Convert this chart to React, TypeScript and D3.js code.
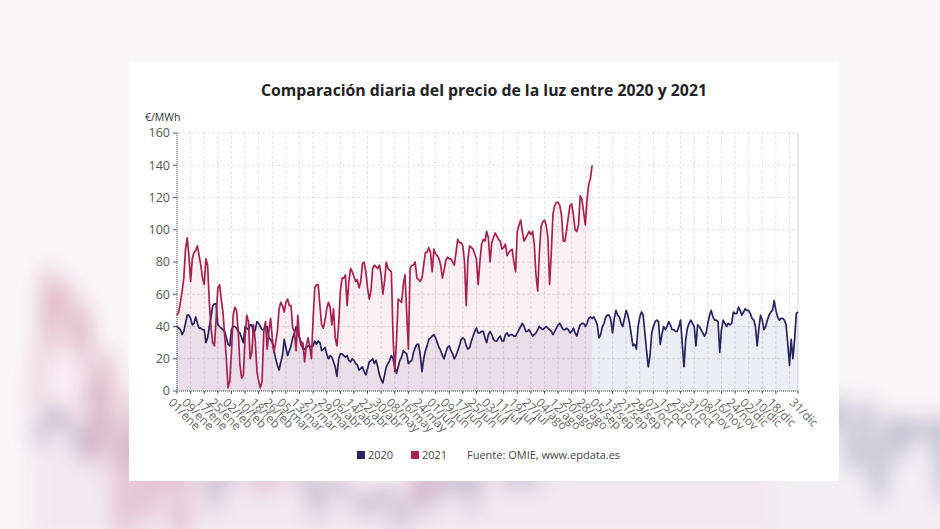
import React from 'react';
import * as d3 from 'd3';

// daily price, €/MWh, index 0 = 01/ene
const price2020 = [
  40, 39, 38, 35, 37,
  42, 47, 47, 45, 41, 42, 46,
  42, 39, 39, 38, 38, 30, 33,
  40, 46, 53, 54, 54, 41, 40,
  39, 38, 37, 33, 29, 28, 38,
  40, 40, 39, 37, 36, 33, 30,
  40, 39, 38, 41, 41, 35, 38,
  43, 42, 40, 38, 38, 40, 40,
  33, 32, 30, 25, 20, 16, 13,
  18, 22, 32, 27, 22, 25, 28,
  33, 36, 40, 36, 33, 30, 26,
  26, 27, 28, 28, 27, 28, 31,
  29, 31, 30, 25, 26, 27, 23,
  20, 22, 21, 18, 15, 9, 20,
  23, 23, 22, 21, 22, 19, 18,
  20, 19, 17, 16, 13, 14, 15,
  12, 10, 14, 18, 19, 20, 17,
  19, 15, 10, 7, 5, 10, 15,
  17, 19, 22, 20, 15, 11, 15,
  19, 21, 25, 24, 23, 17, 18,
  19, 24, 27, 29, 29, 22, 12,
  20, 25, 28, 32, 33, 34, 35,
  33, 30, 27, 25, 22, 20, 24,
  27, 28, 25, 23, 20, 22, 25,
  28, 32, 33, 32, 28, 26, 27,
  31, 34, 37, 39, 36, 36, 37,
  37, 33, 30, 35, 37, 35, 32,
  31, 31, 33, 34, 31, 31, 35,
  36, 34, 35, 35, 34, 34, 36,
  38, 40, 42, 40, 37, 37, 38,
  36, 34, 35, 36, 38, 40, 39,
  38, 39, 40, 39, 38, 37, 35,
  37, 39, 41, 42, 40, 38, 38,
  39, 38, 36, 37, 39, 36, 34,
  38, 41, 42, 42, 40, 42, 45,
  46, 45, 46, 44, 41, 33, 35,
  40, 42, 46, 47, 47, 44, 36,
  45, 50, 47, 46, 42, 40, 45,
  50, 47, 42, 35, 28, 29, 26,
  40, 46, 49, 47, 36, 25, 15,
  22, 36, 40, 43, 44, 43, 29,
  35, 40, 38, 40, 43, 41, 38,
  38, 37, 37, 40, 44, 29, 15,
  32, 39, 42, 44, 42, 40, 28,
  41, 40, 38, 36, 34, 36, 42,
  47, 50, 46, 44, 44, 43, 24,
  38, 44, 42, 40, 42, 41, 42,
  49, 48, 48, 52, 50, 47, 49,
  51, 50, 50, 48, 45, 44, 40,
  28, 39, 47, 44, 38, 40, 44,
  47, 49, 50, 56, 50, 46, 44,
  45, 45, 44, 41, 29, 16, 32,
  20, 32, 48, 49,
];

const price2021 = [
  47, 49, 55, 62, 70, 88, 95,
  84, 68, 82, 86, 87, 90, 84,
  78, 70, 66, 82, 78, 55, 39,
  30, 28, 45, 64, 66, 57, 49,
  35, 20, 2, 6, 24, 47, 52,
  50, 37, 16, 8, 10, 33, 47,
  43, 20, 24, 41, 31, 12, 6,
  2, 6, 37, 43, 26, 37, 45,
  33, 24, 30, 37, 51, 55, 53,
  49, 55, 57, 53, 53, 39, 37,
  25, 47, 33, 28, 30, 18, 28,
  33, 28, 20, 45, 64, 66, 66,
  53, 41, 39, 44, 51, 55, 52,
  41, 51, 33, 28, 41, 62, 70,
  70, 72, 53, 68, 76, 74, 71,
  68, 69, 64, 68, 79, 80, 74,
  64, 57, 62, 76, 78, 77, 76,
  78, 72, 60, 68, 80, 76, 75,
  74, 33, 12, 31, 57, 56, 55,
  66, 72, 49, 26, 76, 78, 78,
  80, 70, 69, 68, 70, 78, 86,
  86, 89, 86, 74, 88, 85, 84,
  82, 78, 70, 75, 81, 83, 82,
  82, 80, 78, 86, 94, 92, 92,
  90, 80, 53, 82, 90, 89, 88,
  85, 82, 66, 80, 91, 94, 93,
  99, 95, 80, 92, 95, 98, 96,
  94, 93, 88, 89, 91, 84, 86,
  87, 88, 80, 74, 99, 103, 106,
  99, 93, 95, 97, 99, 97, 99,
  91, 72, 62, 86, 102, 105, 106,
  103, 95, 66, 86, 110, 115, 117,
  117, 115, 109, 93, 93, 100, 108,
  115, 116, 109, 100, 99, 103, 121,
  119, 111, 103, 119, 128, 132, 140,
];

const xTickLabels = [
  '01/ene', '09/ene', '17/ene', '25/ene', '02/feb', '10/feb', '18/feb', '26/feb',
  '05/mar', '13/mar', '21/mar', '29/mar', '06/abr', '14/abr', '22/abr', '30/abr',
  '08/may', '16/may', '24/may', '01/jun', '09/jun', '17/jun', '25/jun', '03/jul',
  '11/jul', '19/jul', '27/jul', '04/ago', '12/ago', '20/ago', '28/ago', '05/sep',
  '13/sep', '21/sep', '29/sep', '07/oct', '15/oct', '23/oct', '31/oct', '08/nov',
  '16/nov', '24/nov', '02/dic', '10/dic', '18/dic', '31/dic',
];
const yTicks = [0, 20, 40, 60, 80, 100, 120, 140, 160];

const series = [
  { name: '2020', values: price2020, color: '#28245f', fill: 'rgba(60,50,140,0.09)' },
  { name: '2021', values: price2021, color: '#a7204f', fill: 'rgba(200,40,90,0.075)' },
];

const W = 940, H = 529;
const card = { x: 129, y: 62, w: 710, h: 419 };
const plot = { left: 177, right: 798, top: 133, bottom: 391 };
const font = '"Open Sans", "Noto Sans", sans-serif';

const x = d3.scaleLinear().domain([0, 365]).range([plot.left, plot.right]);
const y = d3.scaleLinear().domain([0, 160]).range([plot.bottom, plot.top]);
const tickDays = xTickLabels.map((_, k) => (k < xTickLabels.length - 1 ? k * 8 : 365));
const gridDays = d3.range(0, 366, 8);

const line = d3.line<number>().x((_, i) => x(i)).y((d) => y(d));
const area = d3.area<number>().x((_, i) => x(i)).y0(plot.bottom).y1((d) => y(d));

const Lines = ({ width }: { width: number }) => (
  <g>
    {series.map((s) => (
      <path key={'a' + s.name} d={area(s.values) || ''} fill={s.fill} />
    ))}
    {series.map((s) => (
      <path key={'l' + s.name} d={line(s.values) || ''} fill="none" stroke={s.color}
        strokeWidth={width} strokeLinejoin="round" />
    ))}
  </g>
);

export default function App() {
  return (
    <svg width={W} height={H} style={{ position: 'absolute', left: 0, top: 0 }}
      fontFamily={font}>
      <defs>
        <filter id="blur" x="-20%" y="-20%" width="140%" height="140%">
          <feGaussianBlur stdDeviation="6" />
        </filter>
      </defs>
      {/* blurred backdrop */}
      <rect width={W} height={H} fill="#f7f3f5" />
      <g filter="url(#blur)" opacity={0.6}
        transform="translate(360,200) scale(1.8) translate(-360,-200)">
        <Lines width={3} />
      </g>
      <rect x={0} y={0} width={W} height={H} fill="rgba(255,255,255,0.3)" />

      {/* card */}
      <rect x={card.x} y={card.y} width={card.w} height={card.h} fill="#fff" />

      <text x={484} y={96} textAnchor="middle" fontSize={15.8}
        fontWeight={700} fill="#222">
        Comparación diaria del precio de la luz entre 2020 y 2021
      </text>
      <text x={145} y={121} fontSize={10.5} fill="#333">€/MWh</text>

      {/* grid */}
      <g stroke="#e2e2e2" strokeWidth={1} strokeDasharray="3,2">
        {yTicks.map((t) => (
          <line key={'h' + t} x1={plot.left} x2={plot.right} y1={y(t)} y2={y(t)} />
        ))}
        {gridDays.map((d) => (
          <line key={'v' + d} x1={x(d)} x2={x(d)} y1={plot.top - 2} y2={plot.bottom} />
        ))}
      </g>
      <line x1={plot.right} x2={plot.right} y1={plot.top} y2={plot.bottom} stroke="#d4d4d4" />

      <Lines width={1.7} />

      {/* y axis */}
      <line x1={plot.left} x2={plot.left} y1={plot.top} y2={plot.bottom} stroke="#555"
        strokeDasharray="1,1" />
      {yTicks.map((t) => (
        <g key={'y' + t} transform={`translate(0,${y(t)})`}>
          <line x1={plot.left - 4} x2={plot.left} stroke="#555" />
          <text x={plot.left - 7} dy="0.35em" textAnchor="end" fontSize={12.5} fill="#555">{t}</text>
        </g>
      ))}

      {/* x axis */}
      <line x1={plot.left} x2={plot.right} y1={plot.bottom} y2={plot.bottom} stroke="#555"
        strokeDasharray="1,1" />
      {tickDays.map((d, k) => (
        <g key={'x' + k} transform={`translate(${x(d)},${plot.bottom})`}>
          <line y2={3} stroke="#555" />
          <text transform="translate(-3,6) rotate(45)" dy="0.75em" fontSize={12} fill="#666">
            {xTickLabels[k]}
          </text>
        </g>
      ))}

      {/* legend */}
      <g fontSize={11} fill="#444">
        <rect x={357} y={451} width={8} height={8} fill={series[0].color} />
        <text x={368} y={459}>2020</text>
        <rect x={411} y={451} width={8} height={8} fill={series[1].color} />
        <text x={422} y={459}>2021</text>
        <text x={467} y={459}>Fuente: OMIE, www.epdata.es</text>
      </g>
    </svg>
  );
}
